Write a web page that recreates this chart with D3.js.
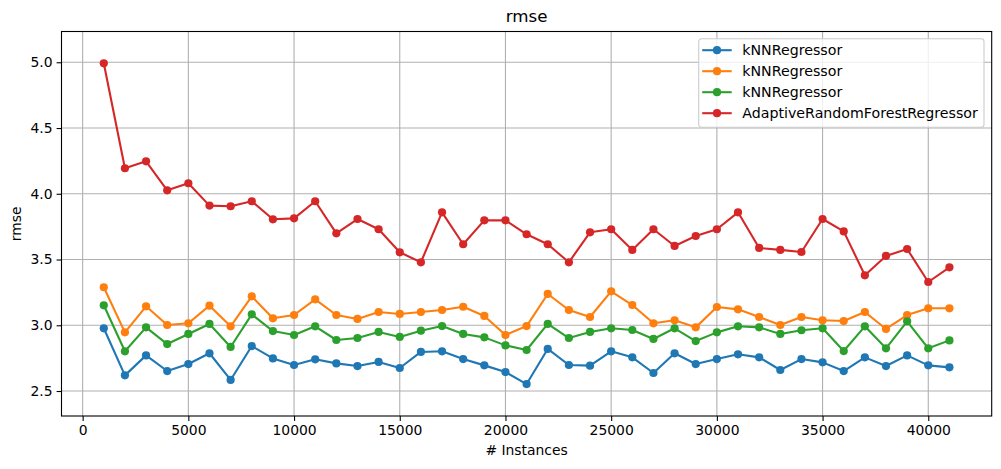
<!DOCTYPE html>
<html>
<head>
<meta charset="utf-8">
<script src="https://cdn.jsdelivr.net/npm/d3@7"></script>
<style>
  body { margin: 0; background: #fff; }
  svg { font-family: "DejaVu Sans", sans-serif; }
</style>
</head>
<body>
<div class="plot"></div>
<script>
var instances = d3.range(1000, 41001, 1000);

var seriesNames = ["kNNRegressor", "kNNRegressor", "kNNRegressor", "AdaptiveRandomForestRegressor"];
var seriesColors = ["#1f77b4", "#ff7f0e", "#2ca02c", "#d62728"];

var knn1 = [2.977, 2.619, 2.771, 2.652, 2.705, 2.787, 2.584, 2.842, 2.748, 2.698,
            2.741, 2.710, 2.690, 2.721, 2.675, 2.797, 2.802, 2.743, 2.695, 2.644,
            2.553, 2.820, 2.698, 2.693, 2.802, 2.756, 2.637, 2.787, 2.705, 2.743,
            2.779, 2.756, 2.660, 2.743, 2.718, 2.652, 2.756, 2.690, 2.771, 2.695, 2.680];
var knn2 = [3.289, 2.946, 3.144, 3.002, 3.015, 3.149, 2.992, 3.220, 3.053, 3.078,
            3.197, 3.078, 3.048, 3.101, 3.086, 3.101, 3.116, 3.141, 3.071, 2.926,
            2.994, 3.238, 3.116, 3.063, 3.258, 3.154, 3.015, 3.038, 2.984, 3.139,
            3.121, 3.063, 3.002, 3.063, 3.038, 3.032, 3.101, 2.972, 3.078, 3.129, 3.129];
var knn3 = [3.152, 2.802, 2.984, 2.857, 2.934, 3.010, 2.835, 3.083, 2.956, 2.926,
            2.992, 2.888, 2.903, 2.949, 2.911, 2.959, 2.994, 2.934, 2.908, 2.847,
            2.812, 3.010, 2.903, 2.949, 2.977, 2.964, 2.896, 2.977, 2.880, 2.946,
            2.992, 2.984, 2.934, 2.962, 2.977, 2.804, 2.992, 2.825, 3.030, 2.825, 2.885];
var arf  = [4.992, 4.194, 4.247, 4.026, 4.080, 3.910, 3.905, 3.943, 3.806, 3.813,
            3.943, 3.699, 3.808, 3.730, 3.555, 3.479, 3.859, 3.616, 3.798, 3.798,
            3.692, 3.616, 3.479, 3.707, 3.730, 3.573, 3.730, 3.603, 3.679, 3.730,
            3.859, 3.588, 3.573, 3.557, 3.808, 3.714, 3.380, 3.527, 3.580, 3.329, 3.441];

var xTicks = [0, 5000, 10000, 15000, 20000, 25000, 30000, 35000, 40000];
var yTicks = [2.5, 3.0, 3.5, 4.0, 4.5, 5.0];

var width = 1001,
    height = 469,
    margin = {top: 31.5, right: 9.3, bottom: 53, left: 61.5},
    plotW = width - margin.left - margin.right,
    plotH = height - margin.top - margin.bottom;

var allSeries = [knn1, knn2, knn3, arf];

var x = d3.scaleLinear().domain([-1000, 43000]).range([0, plotW]);
var y = d3.scaleLinear().domain([2.31, 5.234]).range([plotH, 0]);

var svg = d3.select(".plot").append("svg")
    .attr("width", width)
    .attr("height", height);

var g = svg.append("g")
    .attr("transform", "translate(" + margin.left + "," + margin.top + ")");

// grid
g.append("g").selectAll("line")
    .data(xTicks)
  .enter().append("line")
    .attr("x1", function(d) { return x(d); })
    .attr("x2", function(d) { return x(d); })
    .attr("y1", 0).attr("y2", plotH)
    .attr("stroke", "#b0b0b0").attr("stroke-width", 1.1);

g.append("g").selectAll("line")
    .data(yTicks)
  .enter().append("line")
    .attr("y1", function(d) { return y(d); })
    .attr("y2", function(d) { return y(d); })
    .attr("x1", 0).attr("x2", plotW)
    .attr("stroke", "#b0b0b0").attr("stroke-width", 1.1);

// axes
var xAxis = g.append("g")
    .attr("transform", "translate(0," + plotH + ")")
    .call(d3.axisBottom(x).tickValues(xTicks).tickFormat(d3.format("d")).tickSize(4.9).tickPadding(4));
var yAxis = g.append("g")
    .call(d3.axisLeft(y).tickValues(yTicks).tickFormat(d3.format(".1f")).tickSize(4.9).tickPadding(4));

[xAxis, yAxis].forEach(function(a) {
  a.select(".domain").remove();
  a.selectAll("line").attr("stroke", "#000").attr("stroke-width", 1.1);
  a.selectAll("text").attr("fill", "#000").style("font-size", "13.9px")
    .style("font-family", "'DejaVu Sans', sans-serif");
});

// series
var line = d3.line()
    .x(function(d, i) { return x(instances[i]); })
    .y(function(d) { return y(d); });

allSeries.forEach(function(s, k) {
  var sg = g.append("g");
  sg.append("path")
      .datum(s)
      .attr("d", line)
      .attr("fill", "none")
      .attr("stroke", seriesColors[k])
      .attr("stroke-width", 2.1)
      .attr("stroke-linejoin", "round");
  sg.selectAll("circle")
      .data(s)
    .enter().append("circle")
      .attr("cx", function(d, i) { return x(instances[i]); })
      .attr("cy", function(d) { return y(d); })
      .attr("r", 4.1)
      .attr("fill", seriesColors[k]);
});

// frame
g.append("rect")
    .attr("width", plotW).attr("height", plotH)
    .attr("fill", "none").attr("stroke", "#000").attr("stroke-width", 1.1);

// legend
var legend = g.append("g")
    .attr("transform", "translate(" + (698.7 - margin.left) + "," + (38.7 - margin.top) + ")");
legend.append("rect")
    .attr("width", 285.3).attr("height", 88.6)
    .attr("rx", 2.8)
    .attr("fill", "#fff").attr("fill-opacity", 0.8)
    .attr("stroke", "#cccccc").attr("stroke-width", 1.1);

var item = legend.selectAll(".item")
    .data(seriesNames)
  .enter().append("g")
    .attr("class", "item")
    .attr("transform", function(d, i) { return "translate(0," + (11.5 + i * 21) + ")"; });
item.append("line")
    .attr("x1", 3.5).attr("x2", 33)
    .attr("stroke", function(d, i) { return seriesColors[i]; })
    .attr("stroke-width", 2.1);
item.append("circle")
    .attr("cx", 18.3).attr("r", 4.1)
    .attr("fill", function(d, i) { return seriesColors[i]; });
item.append("text")
    .attr("x", 43.6).attr("dy", "0.35em")
    .style("font-size", "14.2px")
    .text(function(d) { return d; });

// title and axis labels
svg.append("text")
    .attr("x", margin.left + plotW / 2).attr("y", 22)
    .attr("text-anchor", "middle")
    .style("font-size", "16.7px")
    .text("rmse");

svg.append("text")
    .attr("x", margin.left + plotW / 2).attr("y", 455)
    .attr("text-anchor", "middle")
    .style("font-size", "13.9px")
    .text("# Instances");

svg.append("text")
    .attr("transform", "translate(21," + (margin.top + plotH / 2) + ") rotate(-90)")
    .attr("text-anchor", "middle")
    .style("font-size", "13.9px")
    .text("rmse");
</script>
</body>
</html>
